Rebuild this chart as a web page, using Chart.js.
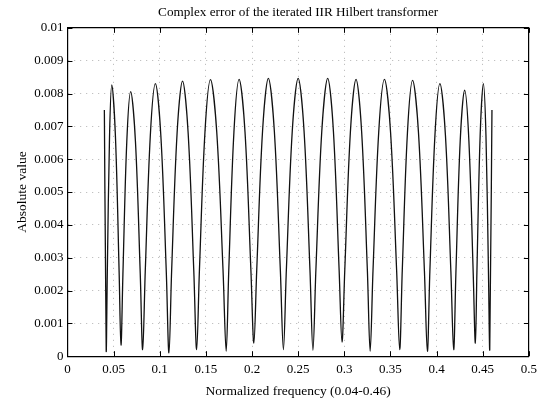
<!DOCTYPE html>
<html>
<head>
<meta charset="utf-8">
<script src="https://cdn.jsdelivr.net/npm/chart.js@4.4.1/dist/chart.umd.min.js"></script>
<style>
  html, body { margin: 0; padding: 0; background: #fff; }
  #wrap { width: 537px; height: 403px; }
</style>
</head>
<body>
<div id="wrap"><canvas id="chart-error"></canvas></div>
<script>
// ---- data (frequency, |error|) ----
const freq = [
  0.0400, 0.0420,
  0.0432, 0.0456, 0.0480, 0.0520, 0.0560, 0.0580,
  0.0601, 0.0643, 0.0685, 0.0737, 0.0789, 0.0815,
  0.0843, 0.0898, 0.0953, 0.1012, 0.1071, 0.1100,
  0.1129, 0.1188, 0.1247, 0.1308, 0.1369, 0.1400,
  0.1430, 0.1490, 0.1550, 0.1618, 0.1686, 0.1720,
  0.1748, 0.1804, 0.1860, 0.1924, 0.1988, 0.2020,
  0.2051, 0.2114, 0.2177, 0.2242, 0.2307, 0.2340,
  0.2372, 0.2436, 0.2500, 0.2564, 0.2628, 0.2660,
  0.2692, 0.2756, 0.2820, 0.2882, 0.2944, 0.2975,
  0.3005, 0.3066, 0.3127, 0.3188, 0.3250, 0.3280,
  0.3311, 0.3373, 0.3435, 0.3501, 0.3567, 0.3600,
  0.3628, 0.3684, 0.3740, 0.3804, 0.3868, 0.3900,
  0.3927, 0.3982, 0.4036, 0.4096, 0.4155, 0.4185,
  0.4209, 0.4256, 0.4304, 0.4350, 0.4397, 0.4420,
  0.4437, 0.4472, 0.4507, 0.4535, 0.4562, 0.4576,
  0.4600,
];
const absErr = [
  0.00750, 0.00015,
  0.00256, 0.00669, 0.00826, 0.00669, 0.00256, 0.00034,
  0.00250, 0.00653, 0.00806, 0.00653, 0.00250, 0.00020,
  0.00257, 0.00672, 0.00830, 0.00672, 0.00257, 0.00010,
  0.00260, 0.00679, 0.00838, 0.00679, 0.00260, 0.00020,
  0.00261, 0.00682, 0.00842, 0.00682, 0.00261, 0.00015,
  0.00261, 0.00683, 0.00843, 0.00683, 0.00261, 0.00040,
  0.00262, 0.00685, 0.00846, 0.00685, 0.00262, 0.00020,
  0.00262, 0.00685, 0.00846, 0.00685, 0.00262, 0.00018,
  0.00262, 0.00685, 0.00846, 0.00685, 0.00262, 0.00043,
  0.00261, 0.00683, 0.00843, 0.00683, 0.00261, 0.00015,
  0.00261, 0.00683, 0.00843, 0.00683, 0.00261, 0.00020,
  0.00260, 0.00680, 0.00840, 0.00680, 0.00260, 0.00015,
  0.00257, 0.00672, 0.00830, 0.00672, 0.00257, 0.00020,
  0.00251, 0.00656, 0.00810, 0.00656, 0.00251, 0.00040,
  0.00257, 0.00672, 0.00830, 0.00672, 0.00257, 0.00020,
  0.00750,
];
const xTickLabels = ['0', '0.05', '0.1', '0.15', '0.2', '0.25', '0.3', '0.35', '0.4', '0.45', '0.5'];
const yTickLabels = ['0', '0.001', '0.002', '0.003', '0.004', '0.005', '0.006', '0.007', '0.008', '0.009', '0.01'];

const serif = '"Liberation Serif", "DejaVu Serif", serif';
const ink = '#000';
const gridColor = 'rgba(0,0,0,0.3)';

// matlab-style inward ticks on all four sides
const inwardTicks = {
  id: 'inwardTicks',
  afterDraw(chart) {
    const { ctx, chartArea: a, scales: { x, y } } = chart;
    const len = 5;
    ctx.save();
    ctx.strokeStyle = ink; ctx.lineWidth = 1;
    ctx.beginPath();
    x.ticks.forEach(t => {
      const px = Math.round(x.getPixelForValue(t.value)) + 0.5;
      ctx.moveTo(px, a.bottom); ctx.lineTo(px, a.bottom - len);
      ctx.moveTo(px, a.top); ctx.lineTo(px, a.top + len);
    });
    y.ticks.forEach(t => {
      const py = Math.round(y.getPixelForValue(t.value)) + 0.5;
      ctx.moveTo(a.left, py); ctx.lineTo(a.left + len, py);
      ctx.moveTo(a.right, py); ctx.lineTo(a.right - len, py);
    });
    ctx.stroke();
    ctx.restore();
  },
};

new Chart(document.getElementById('chart-error'), {
  type: 'line',
  data: {
    datasets: [{
      label: 'Absolute value',
      data: freq.map((f, i) => ({ x: f, y: absErr[i] })),
      borderColor: '#111', borderWidth: 1.3,
      pointRadius: 0, tension: 0.35, fill: false,
    }],
  },
  options: {
    responsive: true, maintainAspectRatio: false, animation: false,
    layout: { padding: { left: 14, right: 0, top: 5, bottom: 1 } },
    plugins: { legend: { display: false }, tooltip: { enabled: false } },
    scales: {
      x: {
        type: 'linear', min: 0, max: 0.5,
        ticks: { stepSize: 0.05, color: ink, padding: 0, font: { family: serif, size: 13 },
                 callback: (v, i) => xTickLabels[i] },
        grid: { color: gridColor, drawTicks: true, tickLength: 6, tickColor: 'rgba(0,0,0,0)' },
        border: { color: ink, width: 1.2, dash: [1, 5] },
        title: { display: true, text: 'Normalized frequency (0.04-0.46)', color: ink,
                 font: { family: serif, size: 13.5 }, padding: { top: 6, bottom: 2 } },
      },
      xTop: {
        type: 'linear', position: 'top', min: 0, max: 0.5,
        ticks: { display: false },
        grid: { display: false, drawTicks: false },
        border: { color: ink, width: 1.2 },
        title: { display: true, text: 'Complex error of the iterated IIR Hilbert transformer', color: ink,
                 font: { family: serif, size: 13.2 }, padding: { top: 0, bottom: 7 } },
      },
      y: {
        type: 'linear', min: 0, max: 0.01,
        ticks: { stepSize: 0.001, color: ink, padding: 4, font: { family: serif, size: 13 },
                 callback: (v, i) => yTickLabels[i] },
        grid: { color: gridColor, drawTicks: false },
        border: { color: ink, width: 1.2, dash: [1, 5] },
        title: { display: true, text: 'Absolute value', color: ink,
                 font: { family: serif, size: 13.5 }, padding: { top: 0, bottom: 0 } },
      },
      yRight: {
        type: 'linear', position: 'right', min: 0, max: 0.01,
        ticks: { display: false },
        grid: { display: false, drawTicks: false },
        border: { color: ink, width: 1.2 },
      },
    },
  },
  plugins: [inwardTicks],
});
</script>
</body>
</html>
